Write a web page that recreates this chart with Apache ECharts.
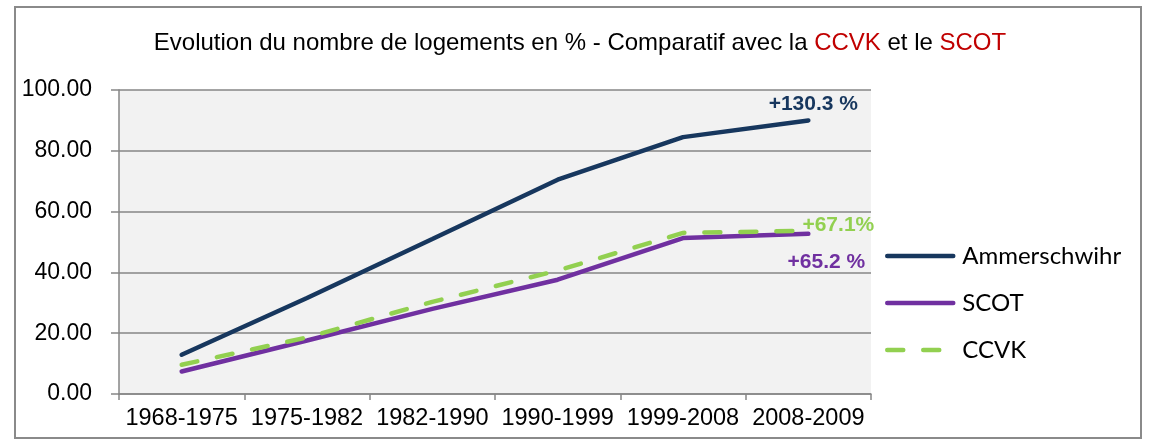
<!DOCTYPE html>
<html>
<head>
<meta charset="utf-8">
<script src="https://cdn.jsdelivr.net/npm/echarts@6/dist/echarts.min.js"></script>
<style>
  html, body { margin: 0; padding: 0; background: #fff; }
  #chart { width: 1149px; height: 441px; }
</style>
</head>
<body>
<div id="chart"></div>
<script>
// periodes
const periods = ['1968-1975', '1975-1982', '1982-1990', '1990-1999', '1999-2008', '2008-2009'];
// evolution cumulee (%)
const ammerschwihr = [12.9, 31.6, 51.0, 70.5, 84.5, 90.0];
const scot = [7.4, 17.6, 28.0, 37.6, 51.3, 52.7];
const ccvk = [9.6, 18.6, 30.3, 40.6, 53.0, 53.7];
// etiquettes en bout de courbe
const endLabels = ['+130.3 %', '+65.2 %', '+67.1%'];
const yTicks = [0, 20, 40, 60, 80, 100];

const chart = echarts.init(document.getElementById('chart'));

function endLabel(text, color, offset) {
  return {
    show: true, formatter: text, distance: 0, align: 'center', verticalAlign: 'middle',
    offset: offset, color: color, fontWeight: 'bold', fontSize: 21,
    fontFamily: 'Liberation Sans'
  };
}

chart.setOption({
  animation: false,
  title: {
    text: 'Evolution du nombre de logements en % - Comparatif avec la {r|CCVK} et le {r|SCOT}',
    left: 575,
    top: 26,
    textAlign: 'center',
    textStyle: {
      fontFamily: 'Liberation Sans', fontSize: 24, fontWeight: 'normal', color: '#000',
      rich: { r: { color: '#C00000', fontFamily: 'Liberation Sans', fontSize: 24 } }
    }
  },
  graphic: [{
    type: 'rect',
    shape: { x: 15, y: 7, width: 1126, height: 431 },
    style: { fill: 'none', stroke: '#8a8a8a', lineWidth: 2 },
    silent: true
  }],
  legend: {
    orient: 'vertical',
    left: 880,
    top: 239,
    itemWidth: 66,
    itemHeight: 14,
    itemGap: 23,
    itemStyle: { opacity: 0 },
    lineStyle: { width: 4.5, cap: 'round' },
    textStyle: { fontFamily: 'Lato', fontSize: 24, color: '#000', lineHeight: 24, padding: [0, 0, 0, 4] },
    data: ['Ammerschwihr', 'SCOT', 'CCVK']
  },
  grid: {
    left: 119, right: 278, top: 90, bottom: 47,
    show: true, backgroundColor: '#F2F2F2', borderWidth: 0
  },
  xAxis: {
    type: 'category',
    data: periods,
    boundaryGap: true,
    axisLine: { lineStyle: { color: '#868686', width: 1.5 } },
    axisTick: { show: true, interval: 0, length: 6, lineStyle: { color: '#868686', width: 1.5 } },
    axisLabel: { interval: 0, color: '#000', fontFamily: 'Liberation Sans', fontSize: 23.5, margin: 13 }
  },
  yAxis: {
    type: 'value',
    min: yTicks[0],
    max: yTicks[yTicks.length - 1],
    interval: 20,
    axisLine: { show: true, lineStyle: { color: '#868686', width: 1.5 } },
    axisTick: { show: true, length: 8, inside: false, lineStyle: { color: '#868686', width: 1.5 } },
    axisLabel: {
      color: '#000', fontFamily: 'Liberation Sans', fontSize: 23, margin: 27,
      formatter: v => v.toFixed(2)
    },
    splitLine: { show: true, lineStyle: { color: '#868686', width: 1.5 } }
  },
  series: [
    {
      name: 'Ammerschwihr', type: 'line', symbol: 'none', z: 3,
      lineStyle: { color: '#17375E', width: 4.5, cap: 'round' },
      itemStyle: { color: '#17375E' },
      endLabel: endLabel(endLabels[0], '#17375E', [5, -16]),
      data: ammerschwihr
    },
    {
      name: 'SCOT', type: 'line', symbol: 'none', z: 2,
      lineStyle: { color: '#7030A0', width: 4.5, cap: 'round' },
      itemStyle: { color: '#7030A0' },
      endLabel: endLabel(endLabels[1], '#7030A0', [18, 28]),
      data: scot
    },
    {
      name: 'CCVK', type: 'line', symbol: 'none', z: 4,
      lineStyle: { color: '#92D050', width: 4.5, type: [16, 20], cap: 'round' },
      itemStyle: { color: '#92D050' },
      endLabel: endLabel(endLabels[2], '#92D050', [30, -6]),
      data: ccvk
    }
  ]
});
</script>
</body>
</html>
